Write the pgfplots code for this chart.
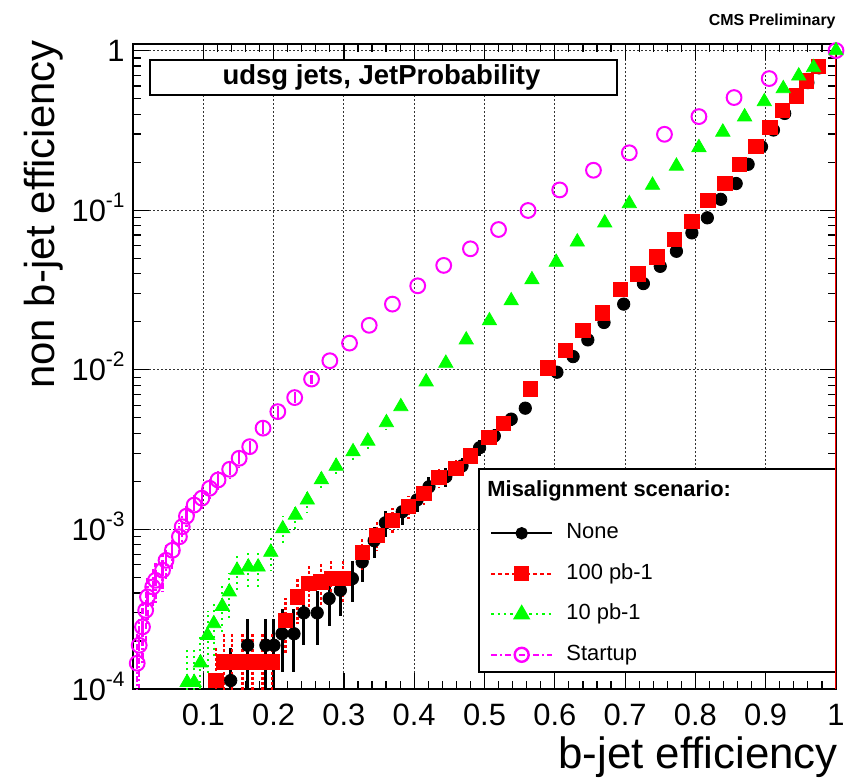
\documentclass[border=0pt]{standalone}
\usepackage{fontspec}
\setmainfont{Liberation Sans}
\usepackage{pgfplots}
\usepackage{pgfplotstable}
\pgfplotsset{compat=1.18}
\definecolor{rmag}{RGB}{255,0,255}
\definecolor{rred}{RGB}{255,0,0}
\definecolor{rgreen}{RGB}{0,255,0}
\newcommand{\tp}[1]{10\raisebox{0.45em}{\fontsize{10.5}{10.5}\selectfont #1}}

\pgfplotstableread{
x y e
0.139 1.13e-4 6.7e-5
0.163 1.88e-4 8.7e-5
0.189 1.88e-4 8.7e-5
0.2005 1.88e-4 8.7e-5
0.212 2.22e-4 9.4e-5
0.229 2.22e-4 9.4e-5
0.243 3.0e-4 1.10e-4
0.262 3.0e-4 1.10e-4
0.279 3.69e-4 1.21e-4
0.295 4.16e-4 1.29e-4
0.312 4.92e-4 1.40e-4
0.326 6.26e-4 1.58e-4
0.343 8.5e-4 1.84e-4
0.359 1.10e-3 2.10e-4
0.383 1.29e-3 2.27e-4
0.404 1.53e-3 2.47e-4
0.421 1.85e-3 2.72e-4
0.445 2.14e-3 2.93e-4
0.468 2.50e-3 3.16e-4
0.493 3.25e-3 3.61e-4
0.514 3.85e-3 3.92e-4
0.538 4.91e-3 4.43e-4
0.558 5.75e-3 4.80e-4
0.603 9.66e-3 6.2e-4
0.626 0.0121 0
0.647 0.0154 0
0.670 0.0198 0
0.698 0.0258 0
0.726 0.0347 0
0.750 0.0445 0
0.773 0.0553 0
0.795 0.0721 0
0.817 0.0896 0
0.836 0.117 0
0.858 0.147 0
0.875 0.194 0
0.894 0.250 0
0.911 0.318 0
0.927 0.404 0
0.945 0.51 0
0.960 0.63 0
0.976 0.78 0
}\none

\pgfplotstableread{
x y e
0.118 1.13e-4 6.7e-5
0.1295 1.48e-4 7.7e-5
0.141 1.48e-4 7.7e-5
0.1555 1.48e-4 7.7e-5
0.170 1.48e-4 7.7e-5
0.184 1.48e-4 7.7e-5
0.198 1.48e-4 7.7e-5
0.217 2.70e-4 1.04e-4
0.234 3.78e-4 1.23e-4
0.250 4.58e-4 1.35e-4
0.267 4.69e-4 1.37e-4
0.282 4.92e-4 1.40e-4
0.2986 4.92e-4 1.40e-4
0.326 7.20e-4 1.70e-4
0.347 9.20e-4 1.92e-4
0.369 1.14e-3 2.14e-4
0.392 1.39e-3 2.36e-4
0.414 1.68e-3 2.59e-4
0.435 2.12e-3 2.91e-4
0.4595 2.42e-3 3.11e-4
0.480 2.89e-3 3.40e-4
0.506 3.76e-3 3.88e-4
0.527 4.63e-3 4.30e-4
0.565 7.6e-3 5.51e-4
0.590 0.0103 0
0.615 0.0132 0
0.640 0.0177 0
0.668 0.0227 0
0.693 0.0318 0
0.718 0.0399 0
0.745 0.0510 0
0.770 0.0655 0
0.795 0.0853 0
0.818 0.115 0
0.842 0.147 0
0.863 0.194 0
0.886 0.252 0
0.906 0.329 0
0.924 0.423 0
0.944 0.520 0
0.958 0.645 0
0.975 0.795 0
}\hundred

\pgfplotstableread{
x y e
0.077 1.10e-4 6.6e-5
0.087 1.10e-4 6.6e-5
0.096 1.46e-4 7.6e-5
0.106 2.17e-4 9.3e-5
0.115 2.57e-4 1.01e-4
0.127 3.30e-4 1.15e-4
0.137 4.06e-4 1.27e-4
0.148 5.55e-4 1.49e-4
0.164 5.82e-4 1.53e-4
0.178 5.82e-4 1.53e-4
0.196 7.20e-4 1.70e-4
0.213 1.01e-3 2.01e-4
0.231 1.23e-3 2.22e-4
0.248 1.53e-3 2.47e-4
0.268 2.05e-3 2.86e-4
0.289 2.49e-3 3.16e-4
0.313 3.07e-3 3.50e-4
0.334 3.58e-3 3.78e-4
0.3605 4.67e-3 4.32e-4
0.381 5.88e-3 4.85e-4
0.417 8.41e-3 5.80e-4
0.445 0.0110 0
0.474 0.0154 0
0.507 0.0203 0
0.538 0.0271 0
0.5675 0.0367 0
0.602 0.0472 0
0.632 0.0633 0
0.671 0.0833 0
0.706 0.110 0
0.739 0.1435 0
0.773 0.189 0
0.805 0.247 0
0.839 0.309 0
0.870 0.385 0
0.898 0.479 0
0.925 0.578 0
0.947 0.694 0
0.968 0.783 0
1.0 1.0 0
}\ten

\pgfplotstableread{
x y e
0.006 1.45e-4 7.6e-5
0.0088 1.88e-4 8.7e-5
0.0135 2.45e-4 9.9e-5
0.018 3.11e-4 1.12e-4
0.0206 3.78e-4 1.23e-4
0.028 4.36e-4 1.32e-4
0.032 4.80e-4 1.39e-4
0.042 5.55e-4 1.49e-4
0.047 6.40e-4 1.60e-4
0.056 7.40e-4 1.72e-4
0.066 9.00e-4 1.90e-4
0.070 1.04e-3 2.04e-4
0.076 1.21e-3 2.20e-4
0.087 1.42e-3 2.38e-4
0.098 1.57e-3 2.51e-4
0.109 1.81e-3 2.69e-4
0.121 2.04e-3 2.86e-4
0.1375 2.38e-3 3.09e-4
0.151 2.79e-3 3.34e-4
0.166 3.30e-3 3.63e-4
0.185 4.31e-3 4.15e-4
0.206 5.47e-3 4.68e-4
0.230 6.70e-3 5.18e-4
0.254 8.75e-3 5.92e-4
0.280 0.0114 0
0.308 0.0147 0
0.336 0.0190 0
0.369 0.0258 0
0.405 0.0336 0
0.442 0.0451 0
0.480 0.0573 0
0.520 0.0757 0
0.562 0.0996 0
0.607 0.134 0
0.655 0.178 0
0.706 0.229 0
0.756 0.299 0
0.805 0.386 0
0.855 0.508 0
0.905 0.668 0
1.0 1.0 0
}\startup

\begin{document}
\begin{tikzpicture}
\begin{axis}[
  set layers,
  scale only axis,
  width=351.5bp, height=322.5bp,
  at={(0,0)}, anchor=south west,
  xmin=0, xmax=1,
  ymode=log, ymin=1e-4, ymax=1.1,
  xtick={0.1,0.2,0.3,0.4,0.5,0.6,0.7,0.8,0.9,1},
  xticklabels={0.1,0.2,0.3,0.4,0.5,0.6,0.7,0.8,0.9,1},
  minor x tick num=4,
  ytick={1e-4,1e-3,1e-2,1e-1,1},
  yticklabels={\tp{-4},\tp{-3},\tp{-2},\tp{-1},1},
  tick pos=both, tick align=inside,
  major tick length=8bp, minor tick length=4bp,
  every tick/.style={black, line width=0.6bp},
  axis line style={line width=1bp},
  grid=major,
  major grid style={black!80, line width=0.55bp, dash pattern=on 0.8bp off 1.2bp},
  x tick label style={font=\fontsize{15.5}{15.5}\selectfont, inner sep=0pt, yshift=-7.5bp},
  y tick label style={font=\fontsize{15.5}{15.5}\selectfont, inner sep=0pt, anchor=base east, xshift=-4bp, yshift=-5.5bp},
  xlabel={b-jet efficiency},
  x label style={at={(axis description cs:1.003,0)}, anchor=base east, yshift=-39.5bp, inner sep=0pt, font=\fontsize{22}{22}\selectfont},
  ylabel={non b-jet efficiency},
  y label style={at={(axis description cs:-0.1273,1.0062)}, anchor=east, inner sep=0pt, font=\fontsize{21}{21}\selectfont},
  legend cell align=left,
  legend image code/.code={\draw[mark repeat=2,mark phase=2,#1] plot coordinates {(0bp,0bp) (15.25bp,0bp) (30.5bp,0bp)};},
  legend style={draw=none, fill=none, at={(axis description cs:0.5078,0.2577)}, anchor=north west,
    inner sep=0pt, outer sep=0pt, row sep=9.75bp, column sep=6.5bp,
    nodes={inner sep=0pt, text height=8bp, text depth=2.5bp, font=\fontsize{11}{13}\selectfont}},
]
\coordinate (sw) at (rel axis cs:0,0);
\coordinate (ne) at (rel axis cs:1,1);
\coordinate (nw) at (rel axis cs:0,1);

\begin{pgfonlayer}{pre main}
\draw[line width=0.8bp, fill=white] ([xshift=8.5bp,yshift=-8bp]nw) rectangle ([xshift=242bp,yshift=-25.5bp]nw);
\node[inner sep=0pt, font=\bfseries\fontsize{13.8}{14}\selectfont] at ([xshift=124.25bp,yshift=-16.75bp]nw) {udsg jets, JetProbability};
\draw[line width=0.8bp, fill=white] ([xshift=173bp,yshift=8.5bp]sw) rectangle ([xshift=351.5bp,yshift=110bp]sw);
\node[anchor=base west, inner sep=0pt, font=\bfseries\fontsize{11}{13}\selectfont] at ([xshift=177bp,yshift=96.5bp]sw) {Misalignment scenario:};
\end{pgfonlayer}

\addplot[rred, line width=1.4bp, forget plot] coordinates {(1,1e-4) (1,1.1)};

\addplot[only marks, black, mark=*, mark size=3.1bp, forget plot,
  error bars/.cd, y dir=both, y explicit, error mark=none,
  error bar style={line width=1.5bp, solid}]
  table[x=x, y=y, y error=e] {\none};
\addplot[only marks, rmag, mark=o, mark size=3.7bp, mark options={line width=1bp}, forget plot,
  error bars/.cd, y dir=both, y explicit, error mark=none,
  error bar style={line width=1.1bp, dash pattern=on 3bp off 1.2bp on 1bp off 1.2bp}]
  table[x=x, y=y, y error=e] {\startup};
\addplot[only marks, rred, mark=square*, mark size=3.6bp, forget plot,
  error bars/.cd, y dir=both, y explicit, error mark=none,
  error bar style={line width=1.2bp, dash pattern=on 1.5bp off 1bp}]
  table[x=x, y=y, y error=e] {\hundred};
\addplot[only marks, rgreen, mark=triangle*, mark size=4.1bp, forget plot,
  error bars/.cd, y dir=both, y explicit, error mark=none,
  error bar style={line width=1bp, dotted}]
  table[x=x, y=y, y error=e] {\ten};

\addlegendimage{black, line width=1.2bp, solid, mark=*, mark size=2.5bp}
\addlegendentry{None}
\addlegendimage{rred, line width=1.2bp, dash pattern=on 2bp off 1.5bp, mark=square*, mark size=3.2bp, mark options={solid}}
\addlegendentry{100 pb-1}
\addlegendimage{rgreen, line width=1.2bp, dotted, mark=triangle*, mark size=3.8bp, mark options={solid}}
\addlegendentry{10 pb-1}
\addlegendimage{rmag, line width=1.2bp, dash pattern=on 3bp off 1.5bp on 1bp off 1.5bp, mark=o, mark size=3.5bp, mark options={solid, fill=white}}
\addlegendentry{Startup}
\end{axis}
\node[anchor=base east, inner sep=0pt, font=\bfseries\fontsize{8}{8}\selectfont] at ([yshift=9.5bp]ne) {CMS Preliminary};
\pgfresetboundingbox
\path[use as bounding box] ([xshift=-66.5bp,yshift=-44bp]sw) rectangle ([xshift=7.5bp,yshift=22bp]ne);
\end{tikzpicture}
\end{document}
